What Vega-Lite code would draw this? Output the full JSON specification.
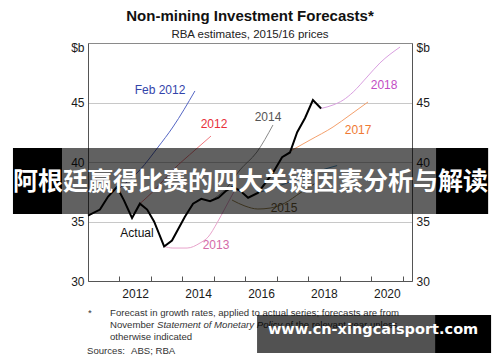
{
  "$schema": "https://vega.github.io/schema/vega-lite/v6.json",
  "width": 324,
  "height": 238,
  "autosize": {"type": "none"},
  "padding": {"left": 88, "top": 43, "right": 88, "bottom": 81},
  "background": "white",
  "config": {
    "font": "Liberation Sans",
    "view": {"stroke": "#8a8a8a", "strokeWidth": 1},
    "axis": {"labelFont": "Liberation Sans", "labelFontSize": 12, "labelColor": "#1a1a1a", "domainColor": "#555", "tickColor": "#555"},
    "axisX": {"labelOverlap": false, "labelBound": false, "labelFlush": false}
  },
  "title": {
    "text": "Non-mining Investment Forecasts*",
    "subtitle": "RBA estimates, 2015/16 prices",
    "anchor": "middle",
    "font": "Liberation Sans",
    "fontSize": 15,
    "fontWeight": "bold",
    "color": "#111",
    "subtitleFont": "Liberation Sans",
    "subtitleFontSize": 11.5,
    "subtitleColor": "#222",
    "subtitlePadding": 5,
    "offset": 1
  },
  "datasets": {
    "lines": [
      {"series": "Feb 2012", "x": 2011.45, "y": 37.7},
      {"series": "Feb 2012", "x": 2012.15, "y": 39.33},
      {"series": "Feb 2012", "x": 2012.73, "y": 41.26},
      {"series": "Feb 2012", "x": 2013.2, "y": 42.94},
      {"series": "Feb 2012", "x": 2013.9, "y": 45.97},
      {"series": "2012", "x": 2012.15, "y": 36.5},
      {"series": "2012", "x": 2012.6, "y": 37.6},
      {"series": "2012", "x": 2013.2, "y": 39.33},
      {"series": "2012", "x": 2013.9, "y": 41.0},
      {"series": "2012", "x": 2014.41, "y": 42.18},
      {"series": "2013", "x": 2012.92, "y": 32.9},
      {"series": "2013", "x": 2013.2, "y": 32.77},
      {"series": "2013", "x": 2013.65, "y": 32.77},
      {"series": "2013", "x": 2014.06, "y": 33.19},
      {"series": "2013", "x": 2014.32, "y": 33.7},
      {"series": "2013", "x": 2014.6, "y": 34.87},
      {"series": "2013", "x": 2014.86, "y": 36.13},
      {"series": "2013", "x": 2015.17, "y": 37.65},
      {"series": "2014", "x": 2014.38, "y": 36.7},
      {"series": "2014", "x": 2014.9, "y": 37.8},
      {"series": "2014", "x": 2015.33, "y": 39.33},
      {"series": "2014", "x": 2015.87, "y": 40.84},
      {"series": "2014", "x": 2016.38, "y": 43.11},
      {"series": "2015", "x": 2015.08, "y": 36.8},
      {"series": "2015", "x": 2015.49, "y": 36.3},
      {"series": "2015", "x": 2015.9, "y": 36.05},
      {"series": "2015", "x": 2016.29, "y": 36.13},
      {"series": "2015", "x": 2016.76, "y": 36.55},
      {"series": "2015", "x": 2017.24, "y": 37.39},
      {"series": "2015", "x": 2017.72, "y": 38.2},
      {"series": "2016", "x": 2015.9, "y": 37.4},
      {"series": "2016", "x": 2016.9, "y": 38.3},
      {"series": "2016", "x": 2017.9, "y": 39.3},
      {"series": "2016", "x": 2018.42, "y": 39.7},
      {"series": "2017", "x": 2016.92, "y": 40.9},
      {"series": "2017", "x": 2017.56, "y": 41.85},
      {"series": "2017", "x": 2018.29, "y": 42.94},
      {"series": "2017", "x": 2018.83, "y": 43.95},
      {"series": "2017", "x": 2019.4, "y": 45.04},
      {"series": "2018", "x": 2017.91, "y": 44.5},
      {"series": "2018", "x": 2018.29, "y": 44.79},
      {"series": "2018", "x": 2018.61, "y": 45.2},
      {"series": "2018", "x": 2018.93, "y": 45.88},
      {"series": "2018", "x": 2019.37, "y": 47.14},
      {"series": "2018", "x": 2019.78, "y": 48.32},
      {"series": "2018", "x": 2020.42, "y": 49.66}
    ],
    "actual": [
      {"x": 2010.5, "y": 35.5},
      {"x": 2010.88, "y": 36.0},
      {"x": 2011.14, "y": 37.1},
      {"x": 2011.42, "y": 37.9},
      {"x": 2011.64, "y": 36.8},
      {"x": 2011.9, "y": 35.3},
      {"x": 2012.15, "y": 36.5},
      {"x": 2012.38, "y": 36.0},
      {"x": 2012.6, "y": 35.0},
      {"x": 2012.92, "y": 32.9},
      {"x": 2013.17, "y": 33.4},
      {"x": 2013.58, "y": 35.4},
      {"x": 2013.84, "y": 36.5},
      {"x": 2014.1, "y": 36.9},
      {"x": 2014.38, "y": 36.7},
      {"x": 2014.65, "y": 37.0},
      {"x": 2014.9, "y": 37.6},
      {"x": 2015.1, "y": 37.9},
      {"x": 2015.33, "y": 37.6},
      {"x": 2015.59, "y": 37.0},
      {"x": 2015.9, "y": 37.4},
      {"x": 2016.13, "y": 38.2},
      {"x": 2016.38, "y": 39.1},
      {"x": 2016.67, "y": 40.4},
      {"x": 2016.92, "y": 40.8},
      {"x": 2017.15, "y": 42.5},
      {"x": 2017.4, "y": 43.7},
      {"x": 2017.65, "y": 45.2},
      {"x": 2017.91, "y": 44.5}
    ],
    "labels": [
      {"series": "Feb 2012", "x": 2012.789, "y": 46.05},
      {"series": "2012", "x": 2014.506, "y": 43.19},
      {"series": "2013", "x": 2014.57, "y": 33.03},
      {"series": "2014", "x": 2016.223, "y": 43.78},
      {"series": "2015", "x": 2016.732, "y": 36.13},
      {"series": "2017", "x": 2019.085, "y": 42.69},
      {"series": "2018", "x": 2019.912, "y": 46.47},
      {"series": "Actual", "x": 2012.058, "y": 34.03}
    ]
  },
  "layer": [
    {
      "data": {"name": "lines"},
      "mark": {"type": "line", "interpolate": "monotone", "strokeWidth": 1},
      "encoding": {
        "x": {"field": "x", "type": "quantitative",
          "scale": {"domain": [2010.5, 2020.8], "nice": false, "zero": false},
          "axis": {"title": null, "grid": false, "orient": "bottom",
            "values": [2011.5, 2012, 2012.5, 2013.5, 2014, 2014.5, 2015.5, 2016, 2016.5, 2017.5, 2018, 2018.5, 2019.5, 2020, 2020.5],
            "labelExpr": "datum.value % 2 === 0 ? '' + datum.value : ''",
            "labelOverlap": false, "labelBound": false,
            "tickOpacity": {"condition": {"test": "datum.value % 1 !== 0", "value": 1}, "value": 0},
            "tickSize": -5, "labelPadding": 12, "labelFlush": false}},
        "y": {"field": "y", "type": "quantitative",
          "scale": {"domain": [30, 50], "nice": false, "zero": false},
          "axis": {"title": null, "orient": "left", "values": [30, 35, 40, 45, 50], "ticks": false, "labelPadding": 4,
            "domain": true, "labelOverlap": false,
            "labelExpr": "datum.value === 50 ? '$b' : datum.label",
            "labelOffset": {"condition": {"test": "datum.value === 50", "value": 4}, "value": 0},
            "grid": true,
            "gridColor": {"condition": {"test": "datum.value === 50 || datum.value === 30", "value": "transparent"}, "value": "#c8c8c8"}}},
        "color": {"field": "series", "type": "nominal", "legend": null,
          "scale": {"domain": ["Feb 2012", "2012", "2013", "2014", "2015", "2016", "2017", "2018"],
            "range": ["#5566c4", "#f07a80", "#e8a3cb", "#8a8a8a", "#9a8450", "#4a90c0", "#f4a06c", "#d9a0e0"]}}
      }
    },
    {
      "data": {"name": "actual"},
      "mark": {"type": "line", "color": "#000", "strokeWidth": 2},
      "encoding": {
        "x": {"field": "x", "type": "quantitative", "axis": null},
        "y": {"field": "y", "type": "quantitative",
          "axis": {"title": null, "orient": "right", "values": [30, 35, 40, 45, 50], "ticks": false, "labelPadding": 4, "grid": false,
            "labelOverlap": false,
            "labelExpr": "datum.value === 50 ? '$b' : datum.label",
            "labelOffset": {"condition": {"test": "datum.value === 50", "value": 4}, "value": 0}}}
      }
    },
    {
      "data": {"name": "labels"},
      "mark": {"type": "text", "fontSize": 12, "font": "Liberation Sans", "align": "center", "baseline": "middle"},
      "encoding": {
        "x": {"field": "x", "type": "quantitative", "axis": null},
        "y": {"field": "y", "type": "quantitative", "axis": null},
        "text": {"field": "series"},
        "color": {"field": "series", "type": "nominal", "legend": null,
          "scale": {"domain": ["Actual", "Feb 2012", "2012", "2013", "2014", "2015", "2017", "2018"],
            "range": ["#111111", "#3344aa", "#e8303a", "#d46aa8", "#555555", "#6b5a35", "#f07a33", "#c24cc4"]}}
      }
    },
    {
      "data": {"values": [{"x": 2008.115, "x2": 2023.219, "y": 41.18, "y2": 35.63}]},
      "mark": {"type": "rect", "color": "#000", "opacity": 0.62},
      "encoding": {
        "x": {"field": "x", "type": "quantitative", "axis": null}, "x2": {"field": "x2"},
        "y": {"field": "y", "type": "quantitative", "axis": null}, "y2": {"field": "y2"}
      }
    },
    {
      "data": {"values": [
        {"x": 2008.115, "x2": 2009.673, "y": 41.18, "y2": 35.63},
        {"x": 2021.565, "x2": 2023.219, "y": 41.18, "y2": 35.63}
      ]},
      "mark": {"type": "rect", "color": "#000", "opacity": 1},
      "encoding": {
        "x": {"field": "x", "type": "quantitative", "axis": null}, "x2": {"field": "x2"},
        "y": {"field": "y", "type": "quantitative", "axis": null}, "y2": {"field": "y2"}
      }
    },
    {
      "data": {"values": [{"t": "阿根廷赢得比赛的四大关键因素分析与解读", "x": 2015.667, "y": 38.32}]},
      "mark": {"type": "text", "font": "Noto Sans CJK SC", "fontSize": 25, "fontWeight": "bold", "color": "#fff", "align": "center", "baseline": "middle"},
      "encoding": {
        "x": {"field": "x", "type": "quantitative", "axis": null},
        "y": {"field": "y", "type": "quantitative", "axis": null},
        "text": {"field": "t"}
      }
    },
    {
      "data": {"values": [
        {"t": "*", "x": 2010.5, "y": 27.31},
        {"t": "Forecast in growth rates, applied to actual series; forecasts are from", "x": 2011.2, "y": 27.31},
        {"t": "November", "x": 2011.2, "y": 26.3},
        {"t": "of the relevant year unless", "x": 2016.767, "y": 26.3},
        {"t": "otherwise indicated", "x": 2011.2, "y": 25.29},
        {"t": "Sources:", "x": 2010.468, "y": 24.12},
        {"t": "ABS; RBA", "x": 2011.867, "y": 24.12}
      ]},
      "mark": {"type": "text", "font": "Liberation Sans", "fontSize": 9.6, "color": "#333", "align": "left", "baseline": "middle"},
      "encoding": {
        "x": {"field": "x", "type": "quantitative", "axis": null},
        "y": {"field": "y", "type": "quantitative", "axis": null},
        "text": {"field": "t"}
      }
    },
    {
      "data": {"values": [{"t": "Statement of Monetary Policy", "x": 2012.694, "y": 26.3}]},
      "mark": {"type": "text", "font": "Liberation Sans", "fontSize": 9.6, "fontStyle": "italic", "color": "#333", "align": "left", "baseline": "middle"},
      "encoding": {
        "x": {"field": "x", "type": "quantitative", "axis": null},
        "y": {"field": "y", "type": "quantitative", "axis": null},
        "text": {"field": "t"}
      }
    },
    {
      "data": {"values": [{"x": 2015.874, "x2": 2021.533, "y": 27.143, "y2": 23.95}]},
      "mark": {"type": "rect", "color": "#000", "opacity": 0.68},
      "encoding": {
        "x": {"field": "x", "type": "quantitative", "axis": null}, "x2": {"field": "x2"},
        "y": {"field": "y", "type": "quantitative", "axis": null}, "y2": {"field": "y2"}
      }
    },
    {
      "data": {"values": [{"x": 2021.533, "x2": 2023.314, "y": 27.143, "y2": 23.95}]},
      "mark": {"type": "rect", "color": "#000", "opacity": 1},
      "encoding": {
        "x": {"field": "x", "type": "quantitative", "axis": null}, "x2": {"field": "x2"},
        "y": {"field": "y", "type": "quantitative", "axis": null}, "y2": {"field": "y2"}
      }
    },
    {
      "data": {"values": [{"t": "www.cn-xingcaisport.com", "x": 2019.562, "y": 25.88}]},
      "mark": {"type": "text", "font": "DejaVu Sans", "fontSize": 14.5, "fontWeight": "bold", "color": "#fff", "align": "center", "baseline": "middle"},
      "encoding": {
        "x": {"field": "x", "type": "quantitative", "axis": null},
        "y": {"field": "y", "type": "quantitative", "axis": null},
        "text": {"field": "t"}
      }
    }
  ],
  "resolve": {"scale": {"color": "independent"}, "axis": {"x": "independent", "y": "independent"}}
}
